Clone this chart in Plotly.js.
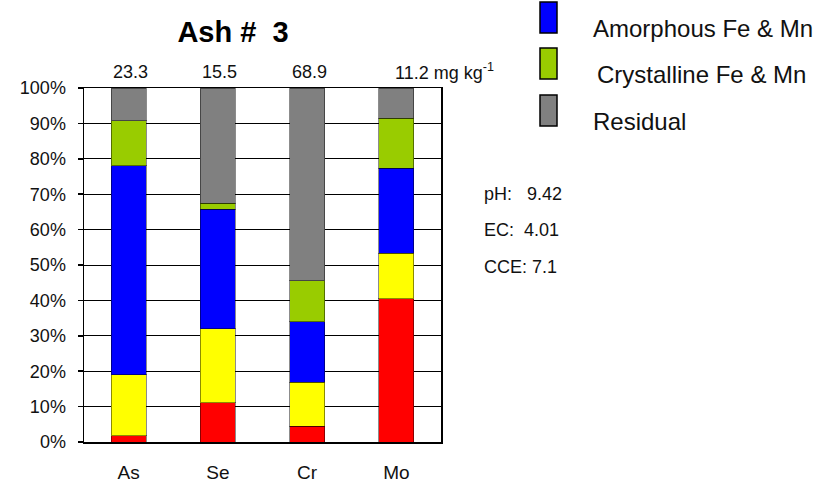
<!DOCTYPE html>
<html>
<head>
<meta charset="utf-8">
<script src="https://cdn.plot.ly/plotly-3.0.1.min.js"></script>
<style>html,body{margin:0;padding:0;background:#fff;}#chart{width:835px;height:491px;}</style>
</head>
<body>
<div id="chart"></div>
<script>
const categories = ['As', 'Se', 'Cr', 'Mo'];
const totals = ['23.3', '15.5', '68.9', '11.2'];
const totalUnit = ' mg kg<sup>-1</sup>';
const fracRed = [1.7, 11.1, 4.5, 40.5];
const fracYellow = [17.3, 20.9, 12.4, 12.8];
const amorphous = [59.0, 33.7, 17.1, 24.0];
const crystalline = [12.8, 1.7, 11.5, 14.1];
const residual = [9.2, 32.6, 54.5, 8.6];
const legendNames = ['Amorphous Fe & Mn', 'Crystalline Fe & Mn', 'Residual'];
const props = ['pH:\u00a0\u00a0\u00a09.42', 'EC:\u00a0\u00a04.01', 'CCE:\u00a07.1'];
const yTicks = [0,10,20,30,40,50,60,70,80,90,100];

const FONT = 'Liberation Sans, Arial, sans-serif';
const colors = ['#FF0000', '#FFFF00', '#0000FF', '#99CC00', '#808080'];
const series = [fracRed, fracYellow, amorphous, crystalline, residual];
const names = ['Fraction 1', 'Fraction 2', legendNames[0], legendNames[1], legendNames[2]];

const traces = series.map((s, i) => ({
  type: 'bar', x: categories, y: s, name: names[i],
  marker: {color: colors[i], line: {color: 'rgba(0,0,0,0.45)', width: 1}},
  hoverinfo: 'skip', showlegend: false
}));

// plot area pixel geometry
const L = 84, R = 441, T = 88, B = 442;
const W = R - L, H = B - T;
const px = v => (v - L) / W;
const py = v => (B - v) / H;

const annotations = [];
categories.forEach((c, i) => {
  const last = i === categories.length - 1;
  annotations.push({
    x: c, xref: 'x', y: py(72), yref: 'paper',
    text: totals[i] + (last ? totalUnit : ''),
    showarrow: false, xanchor: last ? 'left' : 'center', yanchor: 'middle',
    xshift: last ? -3 : 2,
    font: {family: FONT, size: 18, color: '#111'}
  });
});

const legendY = [17, 63, 110];
const legendTextX = [591, 595, 591];
const shapes = [];
legendNames.forEach((n, i) => {
  shapes.push({
    type: 'rect', xref: 'paper', yref: 'paper',
    x0: px(540), x1: px(557), y0: py(legendY[i] - 15), y1: py(legendY[i] + 16),
    fillcolor: colors[i + 2], line: {color: '#000', width: 1.5}
  });
  annotations.push({
    x: px(legendTextX[i]), xref: 'paper', y: py(legendY[i] + 11), yref: 'paper',
    text: n, showarrow: false, xanchor: 'left', yanchor: 'middle',
    font: {family: FONT, size: 24, color: '#111'}
  });
});

const propY = [194, 230, 267];
props.forEach((p, i) => {
  annotations.push({
    x: px(482), xref: 'paper', y: py(propY[i]), yref: 'paper',
    text: p, showarrow: false, xanchor: 'left', yanchor: 'middle',
    font: {family: FONT, size: 18, color: '#111'}
  });
});

const layout = {
  width: 835, height: 491, autosize: false,
  margin: {l: L, r: 835 - R, t: T, b: 491 - B, pad: 0},
  paper_bgcolor: '#fff', plot_bgcolor: '#fff',
  barmode: 'stack', bargap: 0.61,
  title: {
    text: '<b>Ash #\u00a0\u00a03</b>', xref: 'container', yref: 'container',
    x: 233 / 835, xanchor: 'center', y: 1 - 32 / 491, yanchor: 'middle',
    font: {family: FONT, size: 29, color: '#000'}
  },
  xaxis: {
    range: [-0.5, 3.5], showline: true, mirror: true, linecolor: '#000', linewidth: 1.5,
    ticks: '', showgrid: false, ticklabelstandoff: 13,
    tickfont: {family: FONT, size: 19, color: '#111'}, fixedrange: true
  },
  yaxis: {
    range: [0, 100], tickvals: yTicks, ticktext: yTicks.map(v => v + '%'),
    showline: true, mirror: true, linecolor: '#000', linewidth: 1.5,
    showgrid: true, gridcolor: '#000', gridwidth: 1,
    ticks: 'outside', ticklen: 5, tickcolor: '#000', tickwidth: 1.5,
    ticklabelstandoff: 8, zeroline: false,
    tickfont: {family: FONT, size: 18, color: '#111'}, fixedrange: true
  },
  shapes: shapes,
  annotations: annotations
};

Plotly.newPlot('chart', traces, layout, {displayModeBar: false, staticPlot: true});
</script>
</body>
</html>
